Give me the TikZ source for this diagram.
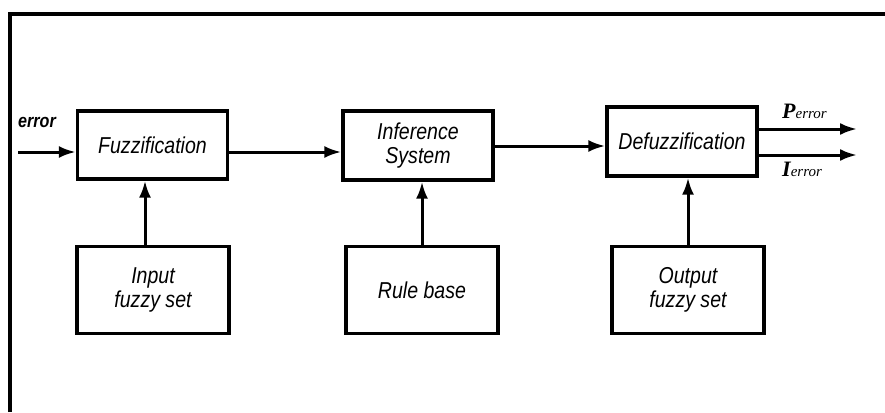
\documentclass[tikz,border=0pt]{standalone}
\usepackage{fontspec}
\setmainfont{Liberation Sans}
\newfontfamily\blockfont[FakeStretch=0.85]{Liberation Sans}
\newfontfamily\outfont{Liberation Serif}
\usetikzlibrary{arrows.meta}

\tikzset{
    block/.style={draw, line width=3.4pt, minimum width=150pt, align=center,
        inner sep=0pt, font=\blockfont\itshape\fontsize{23}{24}\selectfont},
    flow/.style={-{Latex[length=17pt,width=12pt]}, line width=3pt},
    outlabel/.style={font=\outfont\bfseries\itshape\fontsize{22}{22}\selectfont}
}

\begin{document}
\begin{tikzpicture}[x=1pt,y=-1pt]
    \useasboundingbox (0,0) rectangle (885,412);
    % frame
    \draw[line width=3.5pt] (10,412) -- (10,14) -- (885,14);

    % upper row
    \node[block, minimum height=68pt] (fuzz) at (152.5,145) {Fuzzification};
    \node[block, minimum height=69pt] (infer) at (418,145.5) {Inference\\System};
    \node[block, minimum height=69pt] (defuzz) at (682,141.5) {Defuzzification};

    % lower row
    \node[block, minimum height=87pt, minimum width=152pt] (inset) at (153,290) {Input\\fuzzy set};
    \node[block, minimum height=87pt, minimum width=152pt] (rule) at (422,290) {Rule base};
    \node[block, minimum height=87pt, minimum width=152pt] (outset) at (688,290) {Output\\fuzzy set};

    % input and forward path
    \coordinate (in) at (18,152);
    \node[font=\blockfont\bfseries\itshape\fontsize{19}{19}\selectfont, anchor=base west, inner sep=0pt] (err) at (18,127) {error};
    \draw[flow] (in) -- (in -| fuzz.west);
    \draw[flow] (fuzz.east |- in) -- (infer.west |- in);
    \draw[flow] (infer.east |- 0,146) -- (defuzz.west |- 0,146);

    % rule and fuzzy sets
    \draw[flow] ([xshift=-8pt]inset.north) -- ([xshift=-8pt]inset.north |- fuzz.south);
    \draw[flow] (rule.north) -- (rule.north |- infer.south);
    \draw[flow] (outset.north) -- (outset.north |- defuzz.south);

    % outputs
    \coordinate (pout) at (857,129);
    \coordinate (iout) at (857,155);
    \draw[flow] (defuzz.east |- pout) -- (pout);
    \draw[flow] (defuzz.east |- iout) -- (iout);
    \node[outlabel, anchor=base west, inner sep=0pt] (plab) at (782,118) {P\textmd{\fontsize{15}{15}\selectfont error}};
    \node[outlabel, anchor=base west, inner sep=0pt] (ilab) at (782,176) {I\textmd{\fontsize{15}{15}\selectfont error}};
\end{tikzpicture}
\end{document}
